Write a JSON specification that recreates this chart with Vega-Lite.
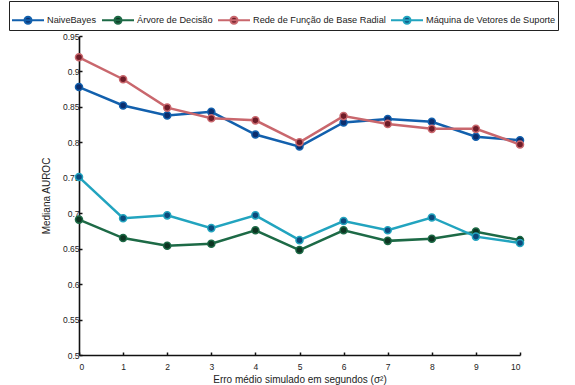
{
  "$schema": "https://vega.github.io/schema/vega-lite/v6.json",
  "autosize": "none",
  "width": 441,
  "height": 319,
  "padding": {"left": 79, "top": 36, "right": 55, "bottom": 30},
  "background": "white",
  "config": {
    "font": "Liberation Sans",
    "view": {"stroke": null},
    "axis": {"grid": false, "domainColor": "#111", "domainWidth": 1.6, "tickColor": "#111", "tickWidth": 1.5, "tickSize": -3, "labelFontSize": 8.5, "labelColor": "#222", "titleFontSize": 10, "titleFontWeight": "normal", "titleColor": "#222", "labelPadding": 3}
  },
  "data": {"values": [
    {"x": 0, "s": "NaiveBayes", "v": 0.878},
    {"x": 1, "s": "NaiveBayes", "v": 0.852},
    {"x": 2, "s": "NaiveBayes", "v": 0.838},
    {"x": 3, "s": "NaiveBayes", "v": 0.843},
    {"x": 4, "s": "NaiveBayes", "v": 0.811},
    {"x": 5, "s": "NaiveBayes", "v": 0.794},
    {"x": 6, "s": "NaiveBayes", "v": 0.828},
    {"x": 7, "s": "NaiveBayes", "v": 0.833},
    {"x": 8, "s": "NaiveBayes", "v": 0.829},
    {"x": 9, "s": "NaiveBayes", "v": 0.808},
    {"x": 10, "s": "NaiveBayes", "v": 0.803},
    {"x": 0, "s": "Árvore de Decisão", "v": 0.691},
    {"x": 1, "s": "Árvore de Decisão", "v": 0.665},
    {"x": 2, "s": "Árvore de Decisão", "v": 0.654},
    {"x": 3, "s": "Árvore de Decisão", "v": 0.657},
    {"x": 4, "s": "Árvore de Decisão", "v": 0.676},
    {"x": 5, "s": "Árvore de Decisão", "v": 0.648},
    {"x": 6, "s": "Árvore de Decisão", "v": 0.676},
    {"x": 7, "s": "Árvore de Decisão", "v": 0.661},
    {"x": 8, "s": "Árvore de Decisão", "v": 0.664},
    {"x": 9, "s": "Árvore de Decisão", "v": 0.674},
    {"x": 10, "s": "Árvore de Decisão", "v": 0.662},
    {"x": 0, "s": "Rede de Função de Base Radial", "v": 0.920},
    {"x": 1, "s": "Rede de Função de Base Radial", "v": 0.889},
    {"x": 2, "s": "Rede de Função de Base Radial", "v": 0.849},
    {"x": 3, "s": "Rede de Função de Base Radial", "v": 0.834},
    {"x": 4, "s": "Rede de Função de Base Radial", "v": 0.831},
    {"x": 5, "s": "Rede de Função de Base Radial", "v": 0.800},
    {"x": 6, "s": "Rede de Função de Base Radial", "v": 0.837},
    {"x": 7, "s": "Rede de Função de Base Radial", "v": 0.826},
    {"x": 8, "s": "Rede de Função de Base Radial", "v": 0.819},
    {"x": 9, "s": "Rede de Função de Base Radial", "v": 0.819},
    {"x": 10, "s": "Rede de Função de Base Radial", "v": 0.797},
    {"x": 0, "s": "Máquina de Vetores de Suporte", "v": 0.751},
    {"x": 1, "s": "Máquina de Vetores de Suporte", "v": 0.693},
    {"x": 2, "s": "Máquina de Vetores de Suporte", "v": 0.697},
    {"x": 3, "s": "Máquina de Vetores de Suporte", "v": 0.679},
    {"x": 4, "s": "Máquina de Vetores de Suporte", "v": 0.697},
    {"x": 5, "s": "Máquina de Vetores de Suporte", "v": 0.662},
    {"x": 6, "s": "Máquina de Vetores de Suporte", "v": 0.689},
    {"x": 7, "s": "Máquina de Vetores de Suporte", "v": 0.676},
    {"x": 8, "s": "Máquina de Vetores de Suporte", "v": 0.694},
    {"x": 9, "s": "Máquina de Vetores de Suporte", "v": 0.667},
    {"x": 10, "s": "Máquina de Vetores de Suporte", "v": 0.658}
  ]},
  "encoding": {
    "x": {"field": "x", "type": "quantitative", "scale": {"domain": [0, 10], "nice": false}, "axis": {"values": [0,1,2,3,4,5,6,7,8,9,10], "title": "Erro médio simulado em segundos (σ²)", "labelPadding": 10, "titlePadding": 4}},
    "y": {"field": "v", "type": "quantitative", "scale": {"domain": [0.5, 0.95], "nice": false, "zero": false}, "axis": {"values": [0.5,0.55,0.6,0.65,0.7,0.75,0.8,0.85,0.9,0.95], "format": ".2~f", "title": "Mediana AUROC", "titlePadding": 11}}
  },
  "layer": [
    {
      "mark": {"type": "line", "strokeWidth": 2.5},
      "encoding": {
        "stroke": {"field": "s", "type": "nominal", "sort": null,
          "scale": {"domain": ["NaiveBayes", "Árvore de Decisão", "Rede de Função de Base Radial", "Máquina de Vetores de Suporte"], "range": ["#1260ad", "#1d6a46", "#c9676d", "#22a4bf"]},
          "legend": {"orient": "none", "legendX": -70, "legendY": -35, "direction": "horizontal", "columns": 4, "title": null,
            "symbolType": "M-1,0H1M0.22,0A0.22,0.22,0,1,1,-0.22,0A0.22,0.22,0,1,1,0.22,0Z",
            "symbolSize": 1024, "symbolStrokeWidth": 2, "labelFontSize": 9.2, "labelColor": "#222", "labelOffset": 2, "columnPadding": 1,
            "strokeColor": "#222", "padding": 2, "fillColor": "white",
            "encode": {"symbols": {"update": {"fill": {"scale": "fill", "field": "value"}}}}}
        }
      }
    },
    {
      "mark": {"type": "point", "filled": true, "size": 50, "strokeWidth": 1.5, "opacity": 1},
      "encoding": {
        "stroke": {"field": "s", "type": "nominal", "sort": null},
        "fill": {"field": "s", "type": "nominal", "legend": null,
          "scale": {"domain": ["NaiveBayes", "Árvore de Decisão", "Rede de Função de Base Radial", "Máquina de Vetores de Suporte"], "range": ["#0b2e6e", "#0d3522", "#6e1c28", "#0c4a7c"]}}
      }
    }
  ]
}
